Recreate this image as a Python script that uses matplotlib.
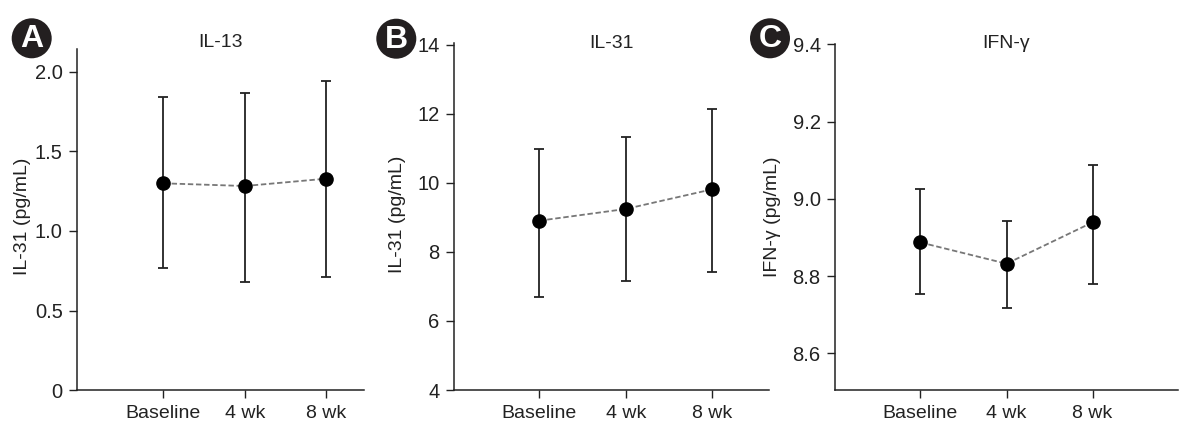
import matplotlib
matplotlib.use("Agg")
import matplotlib.pyplot as plt
from matplotlib.patches import Circle

plt.rcParams['font.family'] = ['Liberation Sans', 'DejaVu Sans']

timepoints = ["Baseline", "4 wk", "8 wk"]

il13_mean = [1.299, 1.282, 1.328]
il13_upper = [1.839, 1.868, 1.942]
il13_lower = [0.770, 0.682, 0.709]

il31_mean = [8.90, 9.24, 9.81]
il31_upper = [10.99, 11.32, 12.13]
il31_lower = [6.69, 7.16, 7.43]

ifng_mean = [8.887, 8.832, 8.939]
ifng_upper = [9.025, 8.943, 9.088]
ifng_lower = [8.754, 8.717, 8.779]

titles = ["IL-13", "IL-31", "IFN-γ"]
ylabels = ["IL-31 (pg/mL)", "IL-31 (pg/mL)", "IFN-γ (pg/mL)"]
letters = ["A", "B", "C"]
yticks_list = [[0, 0.5, 1.0, 1.5, 2.0], [4, 6, 8, 10, 12, 14], [8.6, 8.8, 9.0, 9.2, 9.4]]
yticklabels_list = [["0", "0.5", "1.0", "1.5", "2.0"], ["4", "6", "8", "10", "12", "14"],
                    ["8.6", "8.8", "9.0", "9.2", "9.4"]]
ylims = [(0, 2.14), (4, 14.03), (8.505, 9.4)]

W, H = 1192, 441
fig = plt.figure(figsize=(W / 100, H / 100), dpi=100)

# axes boxes in pixels: left, right, top, bottom
boxes = [(77.3, 364.3, 49.3, 390.3), (454.3, 769.0, 43.5, 390.0), (835.3, 1177.7, 44.3, 390.0)]
xlims = [(-1.06, 2.47), (-0.98, 2.655), (-0.99, 2.99)]
ylabel_x = [22.5, 397.0, 772.5]
ylabel_y = [216.0, 214.5, 217.0]
title_y = [42.7, 43.3, 43.3]
circles = [(31.7, 38.3), (396.3, 38.7), (770.0, 38.3)]

data = [(il13_mean, il13_lower, il13_upper),
        (il31_mean, il31_lower, il31_upper),
        (ifng_mean, ifng_lower, ifng_upper)]

for i in range(3):
    l, r, t, b = boxes[i]
    ax = fig.add_axes([l / W, 1 - b / H, (r - l) / W, (b - t) / H])
    mean, lower, upper = data[i]
    x = list(range(len(timepoints)))
    yerr = [[m - lo for m, lo in zip(mean, lower)], [u - m for m, u in zip(mean, upper)]]
    ax.errorbar(x, mean, yerr=yerr, fmt='none', ecolor='#222222', elinewidth=1.3,
                capsize=3.5, capthick=1.3, zorder=2)
    ax.plot(x, mean, linestyle=(0, (3, 1.5)), color='#777777', linewidth=1.3, zorder=3)
    ax.plot(x, mean, 'o', color='black', markersize=9.5, zorder=4)
    ax.set_xlim(*xlims[i])
    ax.set_ylim(*ylims[i])
    ax.set_xticks(x)
    ax.set_xticklabels(timepoints, fontsize=14, color='#222222')
    ax.set_yticks(yticks_list[i])
    ax.set_yticklabels(yticklabels_list[i], fontsize=14.5, color='#222222')
    ax.tick_params(axis='both', direction='out', length=5.5, width=1, color='#222222')
    ax.tick_params(axis='x', pad=5)
    ax.tick_params(axis='y', pad=5)
    for s in ['top', 'right']:
        ax.spines[s].set_visible(False)
    for s in ['left', 'bottom']:
        ax.spines[s].set_linewidth(1.1)
        ax.spines[s].set_color('#222222')
    fig.text(ylabel_x[i] / W, 1 - ylabel_y[i] / H, ylabels[i], rotation=90,
             ha='center', va='center', fontsize=14, color='#222222')
    fig.text(((l + r) / 2) / W, 1 - title_y[i] / H, titles[i], ha='center', va='center',
             fontsize=14, color='#222222')
    cx, cy = circles[i]
    circ = Circle((cx / 100, (H - cy) / 100), 0.2, transform=fig.dpi_scale_trans,
                  facecolor='#231f20', edgecolor='none')
    fig.patches.append(circ)
    fig.text(cx / W, 1 - (cy + 1) / H, letters[i], ha='center', va='center',
             fontsize=23, fontweight='bold', color='white')

fig.savefig("out.png", dpi=100)
